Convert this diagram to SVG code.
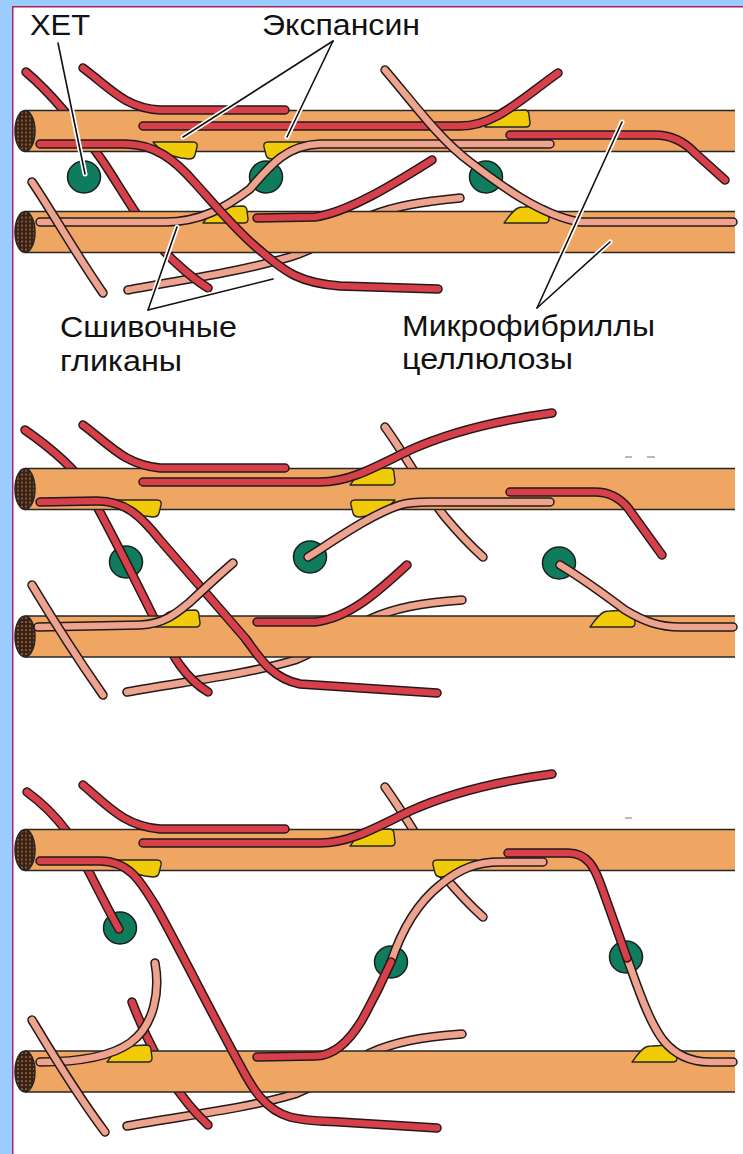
<svg xmlns="http://www.w3.org/2000/svg" width="743" height="1154" viewBox="0 0 743 1154">
  <style>
    .frame { fill: #ffffff; stroke: #a3245e; stroke-width: 1.5; }
    .fib-body { fill: #efa662; }
    .fib-edge { stroke: #262626; stroke-width: 1.5; fill: none; }
    .fib-end { fill: url(#endDots); stroke: #262626; stroke-width: 1.5; }
    .so { fill: none; stroke: #241919; stroke-width: 9.5; stroke-linecap: round; stroke-linejoin: round; }
    .red { fill: none; stroke: #d7404b; stroke-width: 6.5; stroke-linecap: round; stroke-linejoin: round; }
    .pink { fill: none; stroke: #eda38d; stroke-width: 6.5; stroke-linecap: round; stroke-linejoin: round; }
    .exp { fill: #f1cb08; stroke: #262626; stroke-width: 1.4; stroke-linejoin: round; }
    .xet { fill: #0f7c5e; stroke: #1d1d1d; stroke-width: 1.5; }
    .halo { stroke: #ffffff; stroke-width: 5; stroke-linecap: round; fill: none; }
    .lead { stroke: #111111; stroke-width: 1.6; stroke-linecap: round; fill: none; }
    .lbl { font-family: "Liberation Sans", Arial, sans-serif; font-size: 30px; fill: #111111; }
    .tick { stroke: #8a8a8a; stroke-width: 1.2; }
  </style>
  <defs>
    <pattern id="endDots" patternUnits="userSpaceOnUse" width="4" height="4">
      <rect width="4" height="4" fill="#3a2216"/>
      <circle cx="2" cy="2" r="0.85" fill="#c98a4c"/>
    </pattern>
    <!-- cellulose microfibril: body, edges and the cut end -->
    <g id="fibril">
      <rect class="fib-body" x="25" y="0" width="710" height="41"/>
      <line class="fib-edge" x1="25" y1="0" x2="735" y2="0"/>
      <line class="fib-edge" x1="25" y1="41" x2="735" y2="41"/>
      <ellipse class="fib-end" cx="25" cy="20.5" rx="10" ry="20.5"/>
    </g>
    <!-- expansin wedges -->
    <path id="expUp" class="exp" d="M0,17 C4,12 8,5 14,2 Q16,1 20,1 L39,0 Q44,0 44,5 L45,13 Q45,17 41,17 Z"/>
    <path id="expDownL" class="exp" d="M0,0 L40,0 Q45,0 44,5 L42,13 Q41,17 36,17 L28,16 C15,14 6,8 0,0 Z"/>
    <path id="expDownR" class="exp" d="M45,0 L5,0 Q0,0 1,5 L3,13 Q4,17 9,17 L17,16 C30,14 39,8 45,0 Z"/>

    <!-- glycan strand geometry, panel 1 -->
    <path id="s1r1" d="M26,72 C50,92 80,128 104,163 C125,195 150,240 175,262 C188,274 198,282 208,288"/>
    <path id="s1p4" d="M460,198 C420,202 395,206 370,216 C340,230 320,248 290,257 C240,272 180,280 128,290"/>
    <path id="s1r2" d="M83,68 C110,88 125,108 160,110 L285,110"/>
    <path id="s1r3" d="M143,126 L460,126 C495,126 520,100 558,73"/>
    <path id="s1r6" d="M510,135 L655,135 Q678,135 695,153 L725,180"/>
    <path id="s1p2" d="M40,222 L165,222 C200,222 225,208 250,189 C268,168 285,145 320,144 L550,144"/>
    <path id="s1r4" d="M40,144 L125,144 C155,144 175,160 195,183 C215,205 240,235 262,252 C285,272 300,283 340,286 L438,289"/>
    <path id="s1r5" d="M432,160 C400,180 350,212 315,217 L257,218"/>
    <path id="s1p1" d="M32,182 C48,205 72,248 103,293"/>
    <path id="s1p3" d="M385,70 C415,105 440,140 470,162 C500,185 540,215 580,222 L733,222"/>

    <!-- panel 2 -->
    <path id="s2p7" d="M462,600 C420,603 395,608 370,619 C345,632 325,648 295,660 C245,675 180,682 127,692"/>
    <path id="s2p8" d="M385,427 C410,462 425,492 445,517 C460,535 472,547 483,557"/>
    <path id="s2r7" d="M25,430 C48,446 65,460 80,478 C95,498 140,590 160,630 C172,655 185,678 208,692"/>
    <path id="s2r8" d="M83,425 C110,445 125,465 160,468 L285,468"/>
    <path id="s2r9" d="M143,482 L320,482 C350,482 375,467 410,450 C450,432 500,420 552,413"/>
    <path id="s2p9" d="M308,557 C335,540 370,515 400,505 C410,502 420,502 430,502 L550,502"/>
    <path id="s2r12" d="M510,492 L595,492 Q615,492 628,508 L662,555"/>
    <path id="s2p6" d="M38,627 L140,625 C165,624 178,612 190,602 C205,588 220,574 233,563"/>
    <path id="s2r10" d="M40,502 L97,501 C125,501 140,515 160,540 L245,638 C258,655 270,678 300,684 L437,693"/>
    <path id="s2r11" d="M407,565 C380,590 350,618 315,622 L257,622"/>
    <path id="s2p5" d="M32,585 C50,615 75,655 103,695"/>
    <path id="s2p10" d="M560,565 C585,580 605,595 625,610 C645,622 660,627 680,627 L733,627"/>

    <!-- panel 3 -->
    <path id="s3p13" d="M462,1034 C420,1037 395,1042 370,1053 C345,1066 325,1082 295,1094 C245,1109 180,1116 127,1126"/>
    <path id="s3p15" d="M385,787 C410,822 425,852 445,877 C460,895 472,907 483,917"/>
    <path id="s3r13" d="M27,792 C45,805 57,818 68,833 C80,852 105,905 119,929"/>
    <path id="s3r17" d="M132,1002 C142,1028 165,1085 208,1125"/>
    <path id="s3r14" d="M83,785 C110,808 125,826 160,829 L285,829"/>
    <path id="s3r15" d="M143,843 L320,843 C350,843 375,828 410,811 C450,793 500,781 552,774"/>
    <path id="s3r16" d="M40,861 L100,861 C128,861 140,880 155,905 C170,930 215,1020 240,1065 C252,1088 265,1110 290,1117 C305,1121 320,1121 340,1122 L437,1128"/>
    <path id="s3p11" d="M155,963 C160,990 155,1025 130,1043 C110,1057 80,1062 40,1062"/>
    <path id="s3p12" d="M32,1020 C50,1050 75,1092 105,1132"/>
    <path id="s3p14" d="M391,962 C400,935 415,905 440,885 C460,868 478,862 500,862 L543,862"/>
    <path id="s3r18" d="M257,1057 L315,1056 C335,1056 350,1040 362,1020 C372,1002 382,982 391,962"/>
    <path id="s3p16" d="M627,958 C637,985 648,1020 663,1040 C675,1055 690,1062 710,1062 L733,1062"/>
    <path id="s3r19" d="M508,853 L568,853 C588,853 595,868 602,888 L627,958"/>
  </defs>

  <!-- page background and frame -->
  <rect x="0" y="0" width="743" height="1154" fill="#9ccbfd"/>
  <rect class="frame" x="12.75" y="6.75" width="740" height="1160"/>

  <!-- ===== Panel 1 ===== -->
  <g id="panel-1">
    <g id="p1-xet">
      <ellipse class="xet" cx="84" cy="177" rx="16.5" ry="16"/>
      <ellipse class="xet" cx="266" cy="177" rx="16.5" ry="16"/>
      <ellipse class="xet" cx="486" cy="177" rx="16.5" ry="16"/>
    </g>
    <g id="p1-back">
      <use href="#s1p4" class="so"/><use href="#s1p4" class="pink"/>
      <use href="#s1r1" class="so"/><use href="#s1r1" class="red"/>
    </g>
    <g id="p1-fibrils">
      <use id="fibril-A" href="#fibril" y="110.5"/>
      <use id="fibril-B" href="#fibril" y="211.5"/>
    </g>
    <g id="p1-expansin">
      <use href="#expDownL" x="153" y="142"/>
      <use href="#expDownR" x="263" y="142"/>
      <use href="#expUp" x="485" y="110"/>
      <use href="#expUp" x="203" y="206"/>
      <use href="#expUp" x="504" y="206"/>
    </g>
    <g id="p1-front">
      <use href="#s1r2" class="so"/><use href="#s1r2" class="red"/>
      <use href="#s1r3" class="so"/><use href="#s1r3" class="red"/>
      <use href="#s1r6" class="so"/><use href="#s1r6" class="red"/>
      <use href="#s1p2" class="so"/><use href="#s1p2" class="pink"/>
      <use href="#s1r4" class="so"/><use href="#s1r4" class="red"/>
      <use href="#s1r5" class="so"/><use href="#s1r5" class="red"/>
      <use href="#s1p1" class="so"/><use href="#s1p1" class="pink"/>
      <use href="#s1p3" class="so"/><use href="#s1p3" class="pink"/>
    </g>
  </g>

  <!-- ===== Panel 2 ===== -->
  <g id="panel-2">
    <g id="p2-xet">
      <ellipse class="xet" cx="126" cy="562" rx="16.5" ry="16"/>
      <ellipse class="xet" cx="310" cy="557" rx="16.5" ry="16"/>
      <ellipse class="xet" cx="559" cy="563" rx="16.5" ry="16"/>
    </g>
    <g id="p2-back">
      <use href="#s2p7" class="so"/><use href="#s2p7" class="pink"/>
      <use href="#s2p8" class="so"/><use href="#s2p8" class="pink"/>
      <use href="#s2r7" class="so"/><use href="#s2r7" class="red"/>
    </g>
    <g id="p2-fibrils">
      <use id="fibril-C" href="#fibril" y="468.5"/>
      <use id="fibril-D" href="#fibril" y="616"/>
    </g>
    <g id="p2-expansin">
      <use href="#expUp" x="350" y="468"/>
      <use href="#expDownL" x="117" y="500"/>
      <use href="#expDownR" x="350" y="500"/>
      <use href="#expUp" x="155" y="610"/>
      <use href="#expUp" x="590" y="610"/>
    </g>
    <g id="p2-front">
      <use href="#s2r8" class="so"/><use href="#s2r8" class="red"/>
      <use href="#s2r9" class="so"/><use href="#s2r9" class="red"/>
      <use href="#s2p9" class="so"/><use href="#s2p9" class="pink"/>
      <use href="#s2r12" class="so"/><use href="#s2r12" class="red"/>
      <use href="#s2r10" class="so"/><use href="#s2r10" class="red"/>
      <use href="#s2p6" class="so"/><use href="#s2p6" class="pink"/>
      <use href="#s2r11" class="so"/><use href="#s2r11" class="red"/>
      <use href="#s2p5" class="so"/><use href="#s2p5" class="pink"/>
      <use href="#s2p10" class="so"/><use href="#s2p10" class="pink"/>
    </g>
  </g>

  <!-- ===== Panel 3 ===== -->
  <g id="panel-3">
    <g id="p3-xet">
      <ellipse class="xet" cx="120" cy="928" rx="16.5" ry="16"/>
      <ellipse class="xet" cx="391" cy="962" rx="16.5" ry="16"/>
      <ellipse class="xet" cx="626" cy="957" rx="16.5" ry="16"/>
    </g>
    <g id="p3-back">
      <use href="#s3p13" class="so"/><use href="#s3p13" class="pink"/>
      <use href="#s3p15" class="so"/><use href="#s3p15" class="pink"/>
      <use href="#s3r17" class="so"/><use href="#s3r17" class="red"/>
      <use href="#s3r13" class="so"/><use href="#s3r13" class="red"/>
    </g>
    <g id="p3-fibrils">
      <use id="fibril-E" href="#fibril" y="829.5"/>
      <use id="fibril-F" href="#fibril" y="1051"/>
    </g>
    <g id="p3-expansin">
      <use href="#expUp" x="350" y="829"/>
      <use href="#expDownL" x="117" y="860"/>
      <use href="#expDownR" x="432" y="860"/>
      <use href="#expUp" x="107" y="1045"/>
      <use href="#expUp" x="632" y="1045"/>
    </g>
    <g id="p3-front">
      <use href="#s3r14" class="so"/><use href="#s3r14" class="red"/>
      <use href="#s3r15" class="so"/><use href="#s3r15" class="red"/>
      <use href="#s3r16" class="so"/><use href="#s3r16" class="red"/>
      <use href="#s3p11" class="so"/><use href="#s3p11" class="pink"/>
      <use href="#s3p12" class="so"/><use href="#s3p12" class="pink"/>
      <use href="#s3p14" class="so"/><use href="#s3p14" class="pink"/>
      <use href="#s3r18" class="so"/><use href="#s3r18" class="red"/>
      <use href="#s3p16" class="so"/><use href="#s3p16" class="pink"/>
      <use href="#s3r19" class="so"/><use href="#s3r19" class="red"/>
    </g>
  </g>

  <!-- small marks to the right -->
  <g id="ticks">
    <line class="tick" x1="625" y1="457" x2="632" y2="457"/>
    <line class="tick" x1="647" y1="457" x2="655" y2="457"/>
    <line class="tick" x1="625" y1="818" x2="632" y2="818"/>
  </g>

  <!-- leader lines -->
  <g id="connectors">
    <g class="halo">
      <line x1="58" y1="43" x2="85" y2="174"/>
      <line x1="333" y1="41" x2="183" y2="137"/>
      <line x1="333" y1="41" x2="287" y2="137"/>
      <line x1="148" y1="310" x2="177" y2="227"/>
      <line x1="148" y1="310" x2="273" y2="279"/>
      <line x1="537" y1="308" x2="622" y2="122"/>
      <line x1="537" y1="308" x2="610" y2="242"/>
    </g>
    <g class="lead">
      <line x1="58" y1="43" x2="85" y2="174"/>
      <line x1="333" y1="41" x2="183" y2="137"/>
      <line x1="333" y1="41" x2="287" y2="137"/>
      <line x1="148" y1="310" x2="177" y2="227"/>
      <line x1="148" y1="310" x2="273" y2="279"/>
      <line x1="537" y1="308" x2="622" y2="122"/>
      <line x1="537" y1="308" x2="610" y2="242"/>
    </g>
  </g>

  <!-- labels -->
  <g id="labels">
    <text class="lbl" x="30" y="35" textLength="60" lengthAdjust="spacingAndGlyphs">ХЕТ</text>
    <text class="lbl" x="262" y="35" textLength="158" lengthAdjust="spacingAndGlyphs">Экспансин</text>
    <text class="lbl" x="60" y="337" textLength="177" lengthAdjust="spacingAndGlyphs">Сшивочные</text>
    <text class="lbl" x="60" y="371" textLength="122" lengthAdjust="spacingAndGlyphs">гликаны</text>
    <text class="lbl" x="402" y="336" textLength="253" lengthAdjust="spacingAndGlyphs">Микрофибриллы</text>
    <text class="lbl" x="402" y="369" textLength="171" lengthAdjust="spacingAndGlyphs">целлюлозы</text>
  </g>
</svg>
